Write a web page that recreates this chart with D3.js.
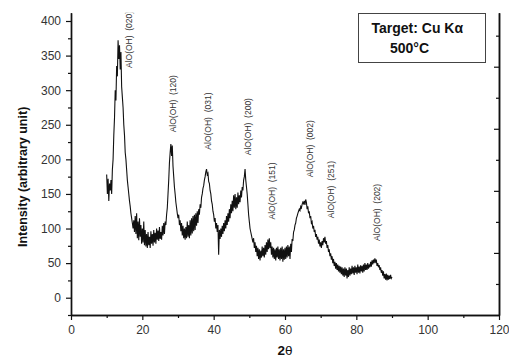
<!DOCTYPE html>
<html>
<head>
<meta charset="utf-8">
<script src="https://cdn.jsdelivr.net/npm/d3@7"></script>
<style>
  html, body { margin: 0; padding: 0; background: #fff; }
  svg { display: block; font-family: "Liberation Sans", Arial, sans-serif; }
</style>
</head>
<body>
<svg id="chart" width="509" height="358"></svg>
<script>
// ---- data ----
const startAngle = 10;   // first 2θ sample
const stepAngle = 0.2;   // 2θ step
const intensity = [
  178,150,172,140,165,155,170,150,185,200,
  235,260,300,285,335,320,372,345,365,330,
  355,305,290,275,250,235,210,200,185,170,
  160,150,140,132,122,115,108,100,112,95,
  118,92,122,86,110,83,115,88,105,78,
  100,80,110,76,98,74,92,72,95,76,
  88,72,96,78,92,75,98,80,94,78,
  100,84,97,82,102,85,95,84,104,90,
  108,92,110,105,120,130,150,170,195,210,
  222,205,220,190,175,160,150,138,130,122,
  115,120,105,112,96,108,90,104,86,100,
  84,102,86,110,88,105,86,112,90,115,
  93,118,96,120,98,122,104,125,108,128,
  120,135,130,145,150,158,162,170,175,182,
  186,178,180,168,165,155,150,140,135,125,
  120,110,115,100,108,95,105,62,98,85,
  100,88,104,92,108,96,112,100,118,105,
  122,110,128,115,135,122,140,125,148,130,
  150,128,145,130,152,135,148,138,155,145,
  160,155,170,175,186,170,160,150,135,120,
  110,100,95,90,85,80,86,72,80,66,
  75,60,72,56,70,54,68,58,74,60,
  72,58,76,62,80,66,84,70,86,72,
  80,62,74,58,72,56,70,54,72,58,
  74,56,70,54,72,56,74,52,70,55,
  72,56,74,58,76,60,74,56,78,66,
  85,82,95,98,105,108,115,118,122,125,
  128,126,132,130,135,138,136,140,134,142,
  138,128,132,122,125,115,118,108,110,100,
  104,95,98,88,92,84,88,78,84,74,
  80,72,82,76,86,80,88,78,82,72,
  76,66,70,60,64,55,60,50,56,46,
  52,42,50,40,48,38,46,36,45,34,
  44,32,42,30,44,32,42,28,40,30,
  44,32,42,34,46,35,44,33,46,36,
  44,34,48,36,45,35,47,38,46,36,
  48,38,50,40,48,40,50,42,48,44,
  52,45,54,48,55,50,57,52,55,46,
  50,44,47,40,44,36,40,32,38,28,
  34,26,35,25,33,26,32,27,33,28,
  30
];
const xTicks = [0, 20, 40, 60, 80, 100, 120];
const yTicks = [0, 50, 100, 150, 200, 250, 300, 350, 400];
const peakLabels = ["AlO(OH)  (020)", "AlO(OH)  (120)", "AlO(OH)  (031)", "AlO(OH)  (200)",
                    "AlO(OH)  (151)", "AlO(OH)  (002)", "AlO(OH)  (251)", "AlO(OH)  (202)"];
const peakAngles = [17.2, 29.3, 39.3, 50.5, 57.1, 67.8, 73.7, 86.5];
const peakLabelBase = [332, 239, 214, 206, 113, 174, 115, 82]; // intensity at which label starts
const legendLines = ["Target: Cu K\u03B1", "500\u00B0C"];

// ---- layout ----
const svg = d3.select("#chart");
const mLeft = 71, mRight = 499, mTop = 12.7, mBottom = 315;

const x = d3.scaleLinear().domain([0, 120]).range([mLeft, mRight]);
const y = d3.scaleLinear().domain([-25, 412]).range([mBottom, mTop]);
const yRight = d3.scaleLinear().domain([0, 4.87]).range([mBottom, mTop]);

svg.append("defs").append("clipPath").attr("id", "plotclip")
  .append("rect").attr("x", mLeft).attr("y", mTop).attr("width", mRight - mLeft).attr("height", mBottom - mTop);

const pts = intensity.map((v, i) => [startAngle + i * stepAngle, v]);

// curve
svg.append("path")
  .datum(pts)
  .attr("fill", "none")
  .attr("stroke", "#111")
  .attr("stroke-width", 1.1)
  .attr("d", d3.line().x(d => x(d[0])).y(d => y(d[1])));

// axes
const fontTick = 12;
const gx = svg.append("g").attr("transform", `translate(0,${mBottom})`)
  .call(d3.axisBottom(x).tickValues(xTicks).tickSize(5).tickPadding(5).tickSizeOuter(0));
const gxm = svg.append("g").attr("transform", `translate(0,${mBottom})`)
  .call(d3.axisBottom(x).tickValues(d3.range(10, 120, 20)).tickSize(3).tickFormat("").tickSizeOuter(0));
const gy = svg.append("g").attr("transform", `translate(${mLeft},0)`)
  .call(d3.axisLeft(y).tickValues(yTicks).tickSize(5).tickPadding(5).tickSizeOuter(0));
const gym = svg.append("g").attr("transform", `translate(${mLeft},0)`)
  .call(d3.axisLeft(y).tickValues(d3.range(-25, 412, 50)).tickSize(3).tickFormat("").tickSizeOuter(0));
const gr = svg.append("g").attr("transform", `translate(${mRight},0)`)
  .call(d3.axisLeft(yRight).tickValues([1, 2, 3, 4]).tickSize(5).tickFormat("").tickSizeOuter(0));
const grm = svg.append("g").attr("transform", `translate(${mRight},0)`)
  .call(d3.axisLeft(yRight).tickValues([0.5, 1.5, 2.5, 3.5, 4.5]).tickSize(3).tickFormat("").tickSizeOuter(0));

[gx, gxm, gy, gym, gr, grm].forEach(g => {
  g.select(".domain").attr("stroke", "#111").attr("stroke-width", 1.4);
  g.selectAll(".tick line").attr("stroke", "#111").attr("stroke-width", 1.2);
  g.selectAll(".tick text").attr("fill", "#333").style("font-size", fontTick + "px")
    .style("font-family", '"Liberation Sans", Arial, sans-serif');
});
gr.select(".domain").attr("stroke-width", 1.6);

// axis titles
svg.append("text")
  .attr("x", (mLeft + mRight) / 2).attr("y", 355)
  .attr("text-anchor", "middle")
  .style("font-size", "13.5px").style("font-weight", "bold").attr("fill", "#111")
  .html('2<tspan style="font-weight:normal">\u03B8</tspan>');

svg.append("text")
  .attr("transform", `translate(27,${(mBottom + mTop) / 2 + 13}) rotate(-90)`)
  .attr("text-anchor", "middle")
  .style("font-size", "12.5px").style("font-weight", "bold").attr("fill", "#111")
  .text("Intensity (arbitrary unit)");

// peak labels
const lab = svg.append("g").attr("clip-path", "url(#plotclip)");
lab.selectAll("text").data(peakLabels).join("text")
  .attr("transform", (d, i) => `translate(${x(peakAngles[i])},${y(peakLabelBase[i])}) rotate(-90)`)
  .attr("text-anchor", "start")
  .style("font-size", "8.5px").style("white-space", "pre").attr("fill", "#333")
  .text(d => d);

// legend box
svg.append("rect")
  .attr("x", 358.5).attr("y", 13.5).attr("width", 127).attr("height", 49)
  .attr("fill", "#fff").attr("stroke", "#444").attr("stroke-width", 1);
svg.append("text").attr("x", 371.5).attr("y", 32.5)
  .style("font-size", "14px").style("font-weight", "bold").attr("fill", "#111")
  .text(legendLines[0]);
svg.append("text").attr("x", 390).attr("y", 53)
  .style("font-size", "14px").style("font-weight", "bold").attr("fill", "#111")
  .text(legendLines[1]);
</script>
</body>
</html>
